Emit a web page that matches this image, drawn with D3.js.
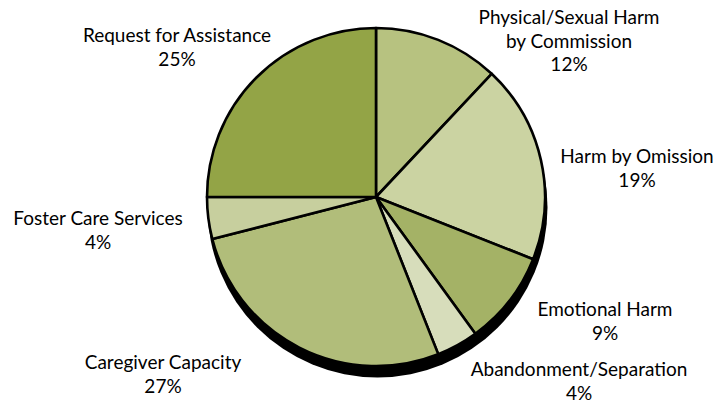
<!DOCTYPE html>
<html><head><meta charset="utf-8">
<script src="https://cdn.jsdelivr.net/npm/d3@7"></script>
<style>body{margin:0;background:#fff}svg{display:block}</style>
</head><body>
<svg id="c" width="720" height="402"></svg>
<script>
const categories = ["Physical/Sexual Harm|by Commission", "Harm by Omission", "Emotional Harm", "Abandonment/Separation", "Caregiver Capacity", "Foster Care Services", "Request for Assistance"];
const values = [12, 19, 9, 4, 27, 4, 25];
const colors = ["#b7c280", "#cbd3a2", "#a4b266", "#d7ddbb", "#b1bd7a", "#c7cf9e", "#93a446"];
const labelPos = [[569, 24], [637, 163], [605, 316], [579, 376], [163, 369], [98, 225], [177, 42]];

const svg = d3.select("#c");
const cx = 376, cy = 197, r = 169;
const pie = d3.pie().sort(null).value(d => d)(values);
const arc = d3.arc().innerRadius(0).outerRadius(r);

svg.append("circle").attr("cx", cx + 1.5).attr("cy", cy + 10.5).attr("r", r + 1).attr("fill", "#000");
const g = svg.append("g").attr("transform", `translate(${cx},${cy})`);
g.selectAll("path").data(pie).join("path")
  .attr("d", arc).attr("fill", (d, i) => colors[i])
  .attr("stroke", "#000").attr("stroke-width", 2.6).attr("stroke-linejoin", "round");

const fmt = d3.format("d");
categories.forEach((c, i) => {
  const lines = c.split("|").concat([fmt(values[i]) + "%"]);
  const t = svg.append("text").attr("text-anchor", "middle")
    .attr("font-family", "Lato, 'Open Sans', sans-serif").attr("font-size", 19).attr("fill", "#000");
  lines.forEach((l, j) => t.append("tspan").attr("x", labelPos[i][0]).attr("y", labelPos[i][1] + j * 23.5).text(l));
});
</script>
</body></html>
